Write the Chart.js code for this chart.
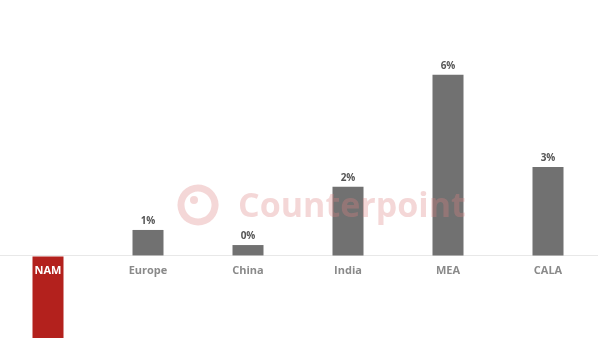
<!DOCTYPE html>
<html><head><meta charset="utf-8">
<script src="https://cdn.jsdelivr.net/npm/chart.js@4"></script>
<style>html,body{margin:0;padding:0;background:#fff;overflow:hidden}#wrap{width:600px;height:338px;position:relative;margin-left:-2.5px}</style>
</head><body><div id="wrap"><canvas id="c"></canvas></div>
<script>
const categories = ["NAM","Europe","China","India","MEA","CALA"];
const growthValues = [-5.0, 0.86, 0.36, 2.29, 6.0, 2.95];
const valueLabels = ["", "1%", "0%", "2%", "6%", "3%"];
const barColors = ["#b3211d","#717171","#717171","#717171","#717171","#717171"];
const categoryLabelColors = ["#ffffff","#8a8a8a","#8a8a8a","#8a8a8a","#8a8a8a","#8a8a8a"];

const overlay = {
  id:'overlay',
  afterDatasetsDraw(chart){
    const ctx = chart.ctx;
    const meta = chart.getDatasetMeta(0);
    const y0 = chart.scales.y.getPixelForValue(0);
    ctx.save();
    const cx = 200, cy = 205;
    ctx.strokeStyle = 'rgba(222,130,130,0.32)';
    ctx.lineWidth = 7;
    ctx.beginPath(); ctx.arc(cx, cy, 17, -1.2, 1.2*Math.PI + 1.6); ctx.stroke();
    ctx.fillStyle = 'rgba(222,130,130,0.32)';
    ctx.beginPath(); ctx.arc(cx-4, cy-5, 4, 0, 2*Math.PI); ctx.fill();
    ctx.font = 'bold 34px "Open Sans", sans-serif';
    ctx.textAlign = 'left'; ctx.textBaseline = 'middle';
    ctx.fillText('Counterpoint', 240, 207);

    ctx.textAlign = 'center';
    meta.data.forEach((bar, i) => {
      ctx.font = 'bold 10px "Open Sans", sans-serif';
      ctx.fillStyle = '#555555';
      ctx.textBaseline = 'bottom';
      if (valueLabels[i]) ctx.fillText(valueLabels[i], bar.x, bar.y - 4);
      ctx.font = 'bold 11px "Open Sans", sans-serif';
      ctx.fillStyle = categoryLabelColors[i];
      ctx.textBaseline = 'middle';
      ctx.fillText(categories[i], bar.x, y0 + 15);
    });
    ctx.restore();
  }
};

new Chart(document.getElementById('c'), {
  type:'bar',
  data:{ labels:categories, datasets:[{ data:growthValues, backgroundColor:barColors, borderWidth:0, barPercentage:0.31, categoryPercentage:1 }]},
  options:{
    responsive:true, maintainAspectRatio:false, animation:false,
    layout:{ padding:0 },
    plugins:{ legend:{display:false}, tooltip:{enabled:false} },
    scales:{
      x:{ display:false },
      y:{ min:-2.72, max:8.48, display:true,
          border:{display:false},
          ticks:{display:false},
          grid:{ drawTicks:false, color:(c)=> c.tick && c.tick.value===0 ? '#e8e8e8' : 'rgba(0,0,0,0)', lineWidth:1 },
          afterBuildTicks:(s)=>{ s.ticks=[{value:0}]; }
      }
    }
  },
  plugins:[overlay]
});
</script></body></html>
